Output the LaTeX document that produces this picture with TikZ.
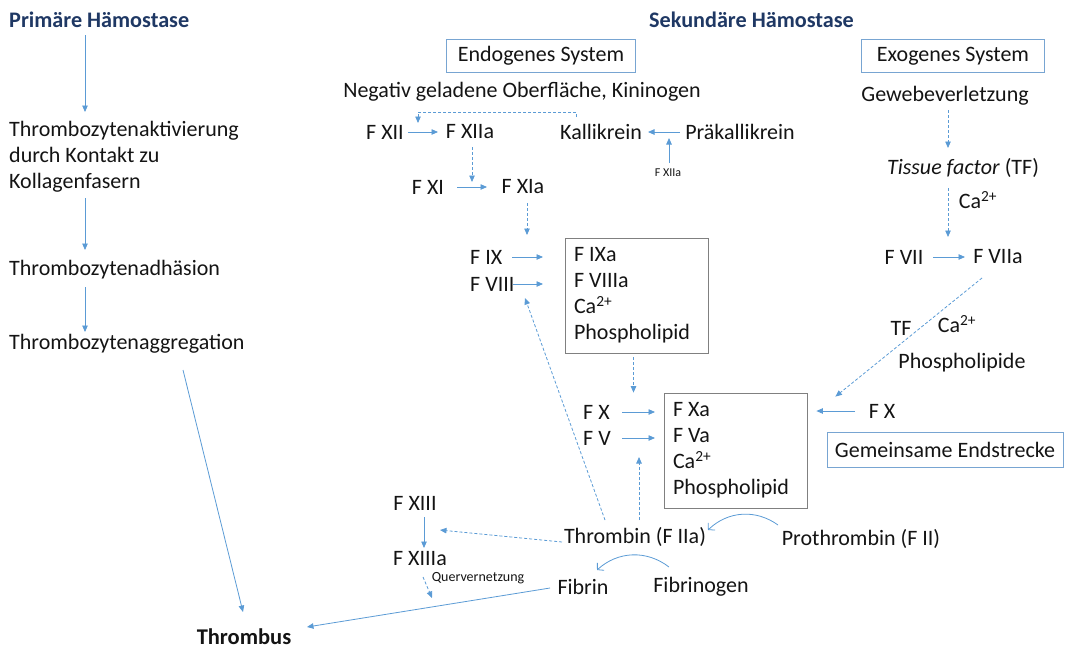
\documentclass[tikz,border=0pt]{standalone}
\usepackage{fontspec}
\setmainfont{Carlito}
\usetikzlibrary{arrows.meta,calc}
\definecolor{arrowblue}{RGB}{91,155,213}
\definecolor{titleblue}{RGB}{31,56,100}
\definecolor{boxblue}{RGB}{120,165,210}
\definecolor{boxgray}{RGB}{128,128,128}
\definecolor{txtcol}{RGB}{20,20,20}
\begin{document}
\begin{tikzpicture}[
  x=1pt, y=-1pt,
  every node/.style={inner sep=1pt, text=txtcol, font=\fontsize{22}{26}\selectfont},
  title/.style={font=\fontsize{22.2}{26}\selectfont\bfseries, text=titleblue},
  small/.style={font=\fontsize{12}{14}\selectfont},
  sysbox/.style={draw=boxblue, line width=0.9pt, minimum height=33pt, inner xsep=8pt},
  cplx/.style={
    draw=boxgray,
    line width=0.8pt,
    align=flush left,
    text width=125pt,
    inner xsep=9pt,
    minimum height=115pt
  },
  arr/.style={arrowblue, line width=0.8pt, -{Triangle[length=6.5pt,width=5.5pt]}},
  darr/.style={arr, dash pattern=on 3pt off 2pt},
  carr/.style={arrowblue, line width=0.8pt, -{Straight Barb[length=4.5pt,width=10pt]}}
]
\useasboundingbox (0,0) rectangle (1070,651);

\node[title, anchor=west] (prim) at (8,20) {Primäre Hämostase};
\node[title, anchor=west] (sek) at (648,20) {Sekundäre Hämostase};

\node[anchor=west, align=left] (aktiv) at (8,157) {Thrombozytenaktivierung\\durch Kontakt zu\\Kollagenfasern};
\node[anchor=west] (adh) at (8,270) {Thrombozytenadhäsion};
\node[anchor=west] (aggr) at (8,344) {Thrombozytenaggregation};
\node[font=\fontsize{22.5}{26}\selectfont\bfseries] (thrombus) at (244,637) {Thrombus};

\node[sysbox, minimum width=189pt] (endo) at (541,56) {Endogenes System};
\node[sysbox, minimum width=183pt] (exo) at (953,56) {Exogenes System};
\node (neg) at (522,92) {Negativ geladene Oberfläche, Kininogen};
\node (fxii) at (385,132) {F XII};
\node (fxiia) at (470,132) {F XIIa};
\node (kall) at (601,132) {Kallikrein};
\node (praek) at (740,132) {Präkallikrein};
\node[small] (fxiis) at (668,173) {F XIIa};
\node (fxi) at (428,187) {F XI};
\node (fxia) at (523,187) {F XIa};
\node[anchor=west] (fix) at (469,257) {F IX};
\node[anchor=west] (fviii) at (469,284) {F VIII};
\node[cplx] (komp1) at (636.5,295.5) {F IXa\\F VIIIa\\Ca\textsuperscript{2+}\\Phospholipid};
\node[anchor=west] (fx) at (582,412) {F X};
\node[anchor=west] (fv) at (582,438) {F V};
\node[cplx] (komp2) at (735.5,450.5) {F Xa\\F Va\\Ca\textsuperscript{2+}\\Phospholipid};
\node (fxr) at (882,411) {F X};
\node[sysbox, minimum width=236pt, minimum height=35pt] (gemein) at (945,450) {Gemeinsame Endstrecke};

\node (gewebe) at (945,96) {Gewebeverletzung};
\node (tissue) at (963,168) {\textit{Tissue factor} (TF)};
\node (ca3) at (978,200) {Ca\textsuperscript{2+}};
\node (fvii) at (904,257) {F VII};
\node (fviia) at (998,257) {F VIIa};
\node (tf) at (901,328) {TF};
\node (ca4) at (957,324) {Ca\textsuperscript{2+}};
\node (phosr) at (962,363) {Phospholipide};

\node (fxiii) at (415,503) {F XIII};
\node (fxiiia) at (420,559) {F XIIIa};
\node[font=\fontsize{14}{16}\selectfont] (querv) at (478,578) {Quervernetzung};
\node (thrombin) at (635,537) {Thrombin (F IIa)};
\node (prothr) at (861,539) {Prothrombin (F II)};
\node (fibrin) at (583,587) {Fibrin};
\node (fibrinogen) at (701,587) {Fibrinogen};

\draw[arr] ($(prim.west)+(77,15)$) -- ($(aktiv.west)+(77,-45)$);
\draw[arr] ($(aktiv.west)+(77,41)$) -- ($(adh.west)+(77,-20)$);
\draw[arr] ($(adh.west)+(77,17)$) -- ($(aggr.west)+(77,-12)$);
\draw[arr] ($(aggr.west)+(175,26)$) -- ($(thrombus)+(-1,-25)$);

\draw[darr] ($(kall)+(-25,-15)$) |- ($(fxii)+(33,-20)$) -- ($(fxii)+(33,-9)$);
\draw[arr] ($(fxii)+(23,0)$) -- ($(fxiia)+(-32,0)$);
\draw[arr] ($(praek)+(-60,0)$) -- ($(kall)+(47,0)$);
\draw[arr] ($(fxiis)+(1,-10)$) -- ($(fxiis)+(1,-35)$);
\draw[darr] ($(fxiia)+(2,15)$) -- ($(fxiia)+(2,50)$);
\draw[arr] ($(fxi)+(29,0)$) -- ($(fxia)+(-36,0)$);
\draw[darr] ($(fxia)+(4,16)$) -- ($(fxia)+(4,48)$);
\draw[arr] ($(fix.west)+(43,0)$) -- ($(fix.west)+(74,0)$);
\draw[arr] ($(fviii.west)+(44,0)$) -- ($(fviii.west)+(74,0)$);
\draw[darr] ($(komp1.south)+(-3,4)$) -- ($(komp2.north)+(-102,0)$);
\draw[arr] ($(fx.west)+(40,0)$) -- ($(fx.west)+(73,0)$);
\draw[arr] ($(fv.west)+(40,0)$) -- ($(fv.west)+(73,0)$);
\draw[arr] ($(fxr)+(-27,0)$) -- ($(komp2.east)+(9,-39.5)$);

\draw[darr] ($(gewebe)+(3,14)$) -- ($(gewebe)+(3,52)$);
\draw[darr] ($(tissue)+(-15,20)$) -- ($(tissue)+(-15,69)$);
\draw[arr] ($(fvii)+(29,0)$) -- ($(fvii)+(61,0)$);
\draw[darr] ($(fviia)+(-16,21)$) -- ($(komp2.north east)+(28,4)$);

\draw[darr] ($(thrombin)+(-30,-17)$) -- ($(fviii.west)+(56,14)$);
\draw[darr] ($(thrombin)+(4,-17)$) -- ($(thrombin)+(4,-80)$);
\draw[darr] ($(thrombin)+(-73,5)$) -- ($(fxiii)+(25,27)$);
\draw[arr] ($(fxiii)+(9,14)$) -- ($(fxiii)+(9,45)$);
\draw[darr] ($(fxiiia)+(3,18)$) -- ($(fxiiia)+(12,39)$);
\draw[carr] ($(prothr)+(-83,-14)$) to[bend right=40] ($(thrombin)+(73,-7)$);
\draw[carr] ($(fibrinogen)+(-32,-20)$) to[bend right=40] ($(fibrin)+(14,-17)$);
\draw[arr] ($(fibrin)+(-33,1)$) -- ($(thrombus)+(63,-10)$);
\end{tikzpicture}
\end{document}
